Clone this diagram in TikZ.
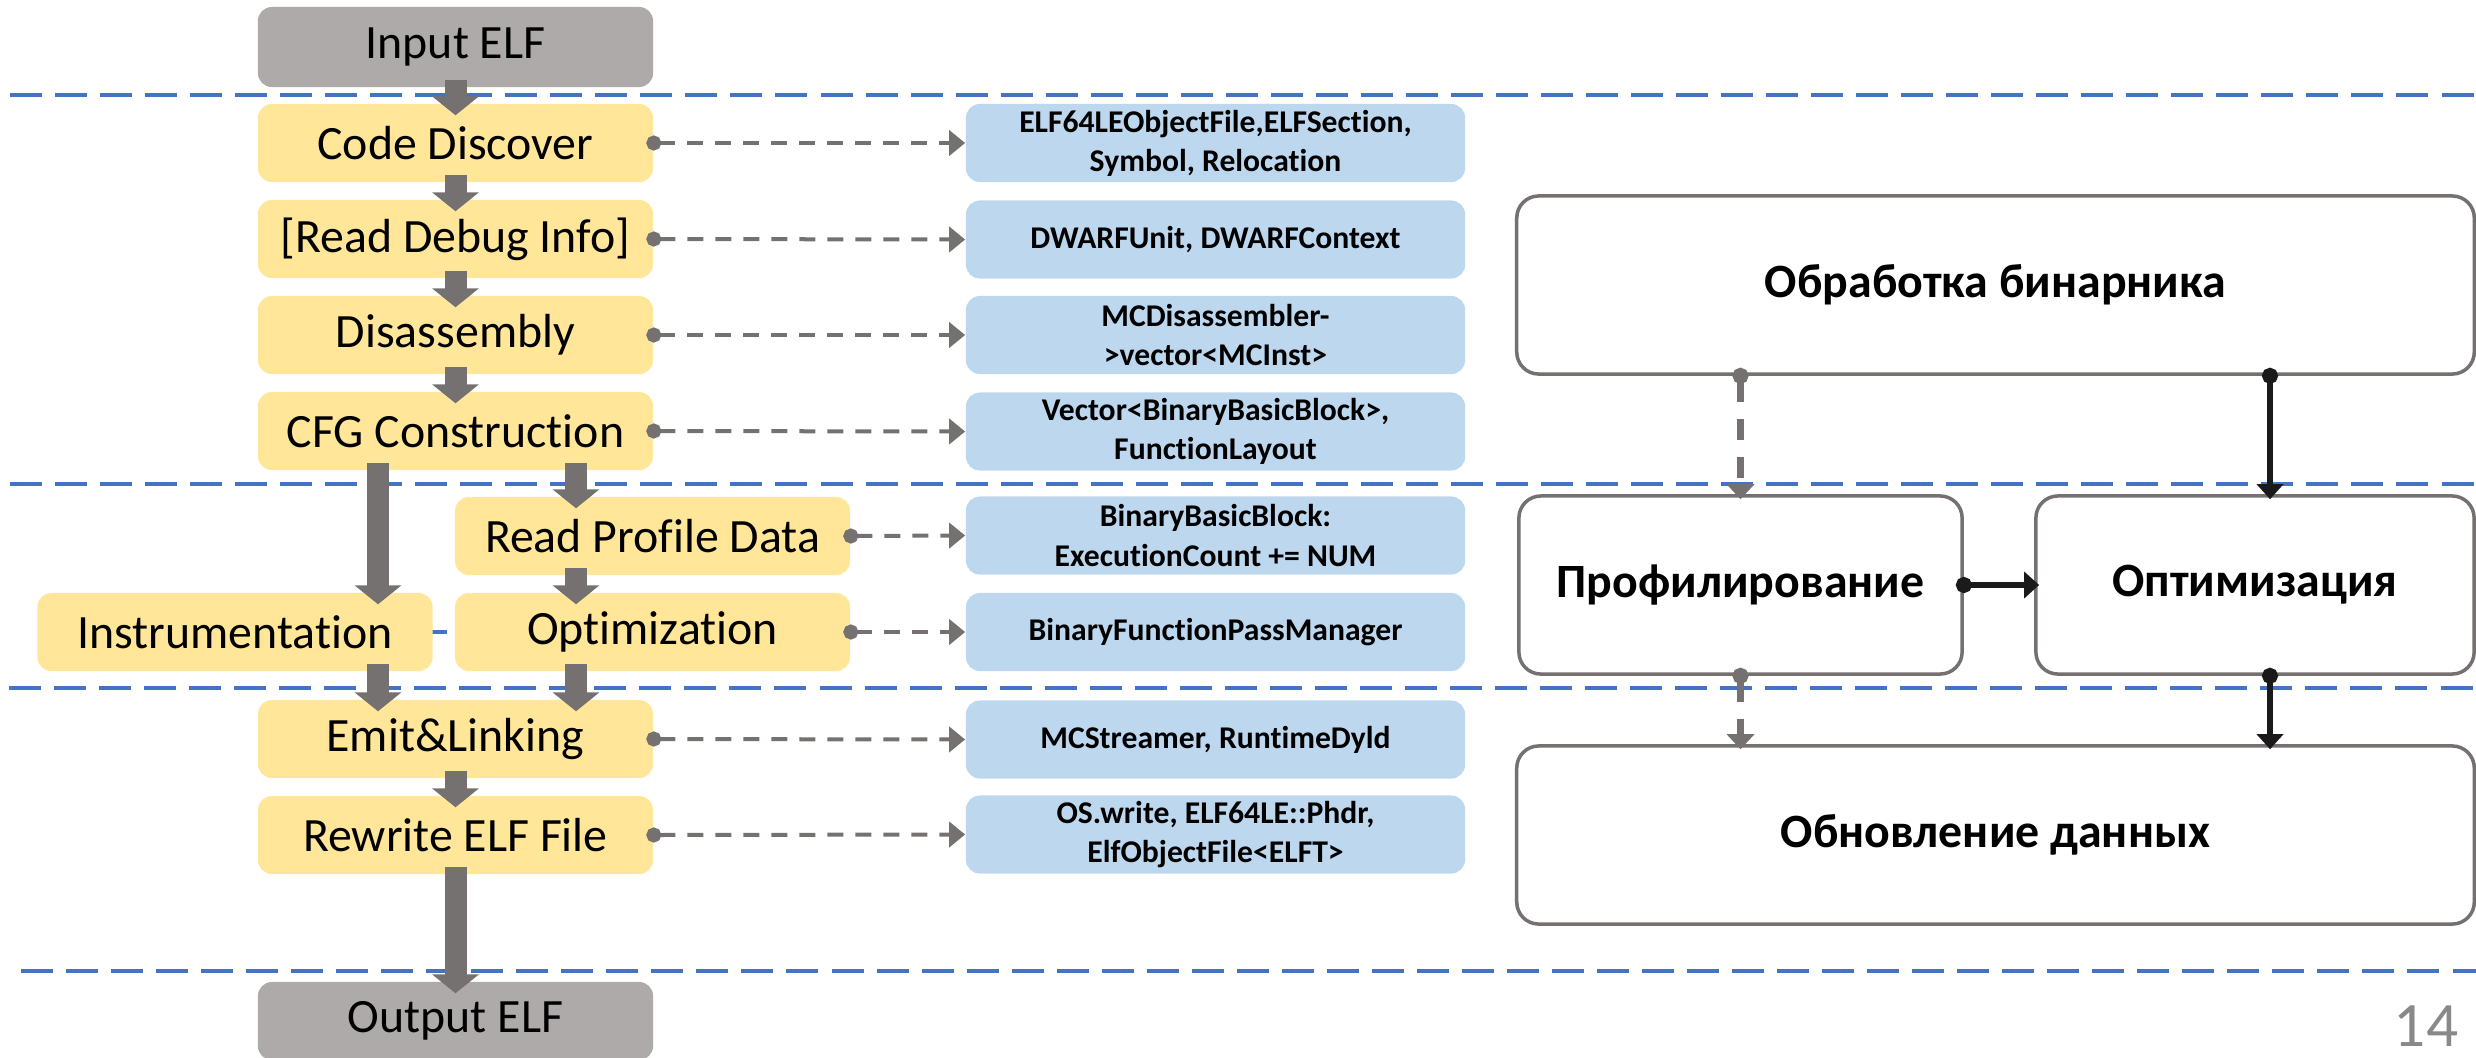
\documentclass[tikz,border=0pt]{standalone}
\usepackage{fontspec}
\setmainfont{Carlito}[Ligatures=NoCommon]
\usetikzlibrary{arrows.meta,calc}

\definecolor{elfgray}{HTML}{AEAAAA}
\definecolor{stepyellow}{HTML}{FFE699}
\definecolor{apiblue}{HTML}{BDD7EE}
\definecolor{flowgray}{HTML}{767171}
\definecolor{lineblue}{HTML}{4472C4}
\definecolor{pagegray}{HTML}{898989}
\definecolor{inkblack}{HTML}{1A1A1A}

\tikzset{
	elfbox/.style={fill=elfgray, rounded corners=0.14cm, minimum width=3.95cm, minimum height=0.80cm, inner sep=0pt, font=\fontsize{13.6}{16}\selectfont},
	stepbox/.style={fill=stepyellow, rounded corners=0.14cm, minimum width=3.95cm, minimum height=0.78cm, inner sep=0pt, font=\fontsize{13.6}{16}\selectfont},
	apibox/.style={fill=apiblue, rounded corners=0.14cm, minimum width=4.99cm, minimum height=0.78cm, inner sep=0pt, align=center, font=\bfseries\fontsize{9}{11.1}\selectfont},
	phasebox/.style={draw=flowgray, line width=0.035cm, fill=white, rounded corners=0.22cm, minimum height=1.78cm, inner sep=0pt, font=\bfseries\fontsize{13.6}{16}\selectfont},
	sepline/.style={color=lineblue, line width=0.04cm, dash pattern=on 0.32cm off 0.13cm},
	flow/.style={color=flowgray, line width=0.22cm, -{Triangle[width=0.46cm,length=0.19cm]}, shorten <=-0.08cm, shorten >=-0.12cm},
	apilink/.style={color=flowgray, line width=0.04cm, dash pattern=on 0.16cm off 0.12cm, {Circle[length=0.15cm,width=0.15cm]}-{Triangle[width=0.25cm,length=0.16cm]}, shorten <=-0.075cm},
	phaselink/.style={color=flowgray, line width=0.065cm, dash pattern=on 0.21cm off 0.17cm, {Circle[length=0.16cm,width=0.16cm]}-{Triangle[width=0.27cm,length=0.15cm]}, shorten <=-0.08cm, shorten >=-0.05cm},
	phasearrow/.style={color=inkblack, line width=0.06cm, {Circle[length=0.16cm,width=0.16cm]}-{Triangle[width=0.26cm,length=0.15cm]}, shorten <=-0.08cm, shorten >=-0.05cm}
}

\begin{document}
\begin{tikzpicture}[x=0.01cm, y=-0.01cm]
		%%%%% START %%%%%
		\useasboundingbox (0, 0) rectangle (2476, 1057);
		
		\draw[sepline] (10, 95) -- (2476, 95);
		\draw[sepline] (10, 484) -- (2476, 484);
		\draw[sepline] (415, 632) -- (455, 632);
		\draw[sepline] (9, 688) -- (2476, 688);
		\draw[sepline] (21, 971) -- (2476, 971);
		
		\coordinate (lanel) at (378, 0);
		\coordinate (laner) at (576, 0);
		
		% pipeline
		\node[elfbox] (inelf) at (455.5, 47) {Input ELF};
		\node[stepbox] (cd) at (455.5, 143) {Code Discover};
		\node[stepbox] (rdi) at (455.5, 239) {[Read Debug Info]};
		\node[stepbox] (dis) at (455.5, 335) {Disassembly};
		\node[stepbox] (cfg) at (455.5, 431) {CFG Construction};
		\node[stepbox] (rpd) at (652.5, 536) {Read Profile Data};
		\node[stepbox] (instr) at (235, 632) {Instrumentation};
		\node[stepbox] (optim) at (652.5, 632) {Optimization};
		\node[stepbox] (emit) at (455.5, 739) {Emit\&Linking};
		\node[stepbox] (rew) at (455.5, 835) {Rewrite ELF File};
		\node[elfbox, minimum height=0.78cm] (outelf) at (455.5, 1021) {Output ELF};
		
		% llvm classes
		\node[apibox] (api1) at (1215.5, 143) {ELF64LEObjectFile,ELFSection,\\Symbol, Relocation};
		\node[apibox] (api2) at (1215.5, 239.5) {DWARFUnit, DWARFContext};
		\node[apibox] (api3) at (1215.5, 335) {MCDisassembler-\\>vector<MCInst>};
		\node[apibox] (api4) at (1215.5, 431.5) {Vector<BinaryBasicBlock>,\\FunctionLayout};
		\node[apibox] (api5) at (1215.5, 535.5) {BinaryBasicBlock:\\ExecutionCount += NUM};
		\node[apibox] (api6) at (1215.5, 632) {BinaryFunctionPassManager};
		\node[apibox] (api7) at (1215.5, 739.5) {MCStreamer, RuntimeDyld};
		\node[apibox] (api8) at (1215.5, 834.5) {OS.write, ELF64LE::Phdr,\\ElfObjectFile<ELFT>};
		
		\draw[flow] (inelf.south) -- (cd.north);
		\draw[flow] (cd.south) -- (rdi.north);
		\draw[flow] (rdi.south) -- (dis.north);
		\draw[flow] (dis.south) -- (cfg.north);
		\draw[flow] (cfg.south -| lanel) -- (instr.north -| lanel);
		\draw[flow] (cfg.south -| laner) -- (rpd.north -| laner);
		\draw[flow] (rpd.south -| laner) -- (optim.north -| laner);
		\draw[flow] (instr.south -| lanel) -- (emit.north -| lanel);
		\draw[flow] (optim.south -| laner) -- (emit.north -| laner);
		\draw[flow] (emit.south) -- (rew.north);
		\draw[flow] (rew.south) -- (outelf.north);
		
		\draw[apilink] (cd.east) -- (api1.west);
		\draw[apilink] (rdi.east) -- (api2.west);
		\draw[apilink] (dis.east) -- (api3.west);
		\draw[apilink] (cfg.east) -- (api4.west);
		\draw[apilink] (rpd.east) -- (api5.west);
		\draw[apilink] (optim.east) -- (api6.west);
		\draw[apilink] (emit.east) -- (api7.west);
		\draw[apilink] (rew.east) -- (api8.west);
		
		% phases
		\node[phasebox, minimum width=9.57cm] (binproc) at (1995.5, 285) {Обработка бинарника};
		\node[phasebox, minimum width=4.43cm] (prof) at (1740.5, 585) {Профилирование};
		\node[phasebox, minimum width=4.38cm] (opt) at (2255, 585) {Оптимизация};
		\node[phasebox, minimum width=9.57cm] (upd) at (1995.5, 835) {Обновление данных};
		
		\draw[phaselink] (binproc.south -| prof.north) -- (prof.north);
		\draw[phasearrow] ($(binproc.south -| opt.north)+(15, 0)$) -- ($(opt.north)+(15, 0)$);
		\draw[phasearrow] (prof.east) -- (opt.west);
		\draw[phaselink] (prof.south) -- (prof.south |- upd.north);
		\draw[phasearrow] ($(opt.south)+(15, 0)$) -- ($(opt.south |- upd.north)+(15, 0)$);
		
		\node[text=pagegray, inner sep=0pt, anchor=base, font=\fontsize{18}{20}\selectfont] (pgnum) at (2426, 1046) {14};
		%%%%% END %%%%%
\end{tikzpicture}
\end{document}
